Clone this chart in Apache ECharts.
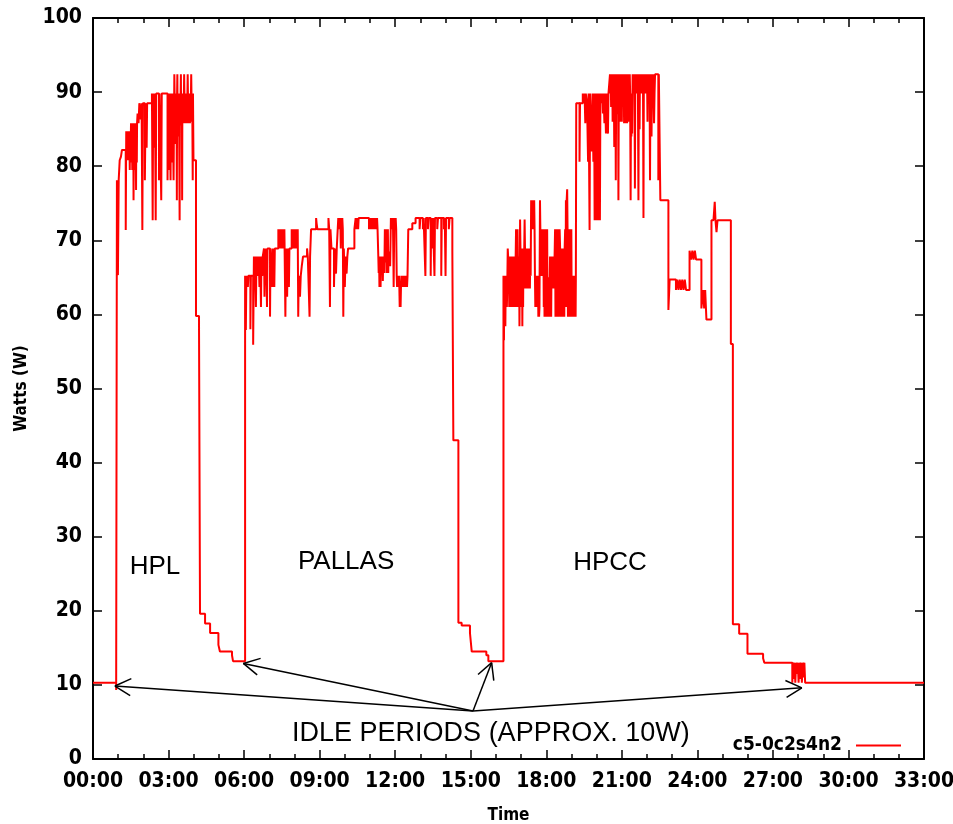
<!DOCTYPE html>
<html><head><meta charset="utf-8">
<script src="https://cdn.jsdelivr.net/npm/echarts@6/dist/echarts.min.js"></script>
<style>html,body{margin:0;padding:0;background:#fff}#c{width:953px;height:824px}</style>
</head><body><div id="c"></div>
<script>
// time in minutes, power in watts (step: value holds from its time until next point)
const idleBefore = [[0,10.3],[0.92,9.3]];
const hplRun = [
[0.95,78.1],[0.99,65.3],[1.02,78.1],[1.06,80.8],[1.11,81.3],[1.15,82.2],
[1.30,71.4],[1.32,84.7],[1.34,81.3],[1.35,84.7],[1.37,80.8],[1.38,84.7],[1.40,81.3],[1.41,84.7],[1.43,80.8],[1.44,84.7],[1.46,79.5],[1.47,84.7],[1.49,81.3],[1.51,85.8],[1.53,80.5],[1.54,85.8],[1.56,79.5],[1.57,85.8],[1.59,81.0],[1.60,85.8],[1.61,75.4],[1.63,85.8],[1.65,80.0],[1.66,85.8],[1.67,79.5],[1.69,85.8],[1.71,76.8],[1.72,85.8],[1.74,80.5],[1.75,85.8],
[1.77,87.1],[1.79,85.8],[1.80,87.1],[1.81,85.8],[1.84,88.5],[1.90,86.3],[1.93,88.5],[1.96,71.4],[1.98,88.5],[2.06,78.1],[2.09,88.5],[2.13,82.5],[2.15,88.5],[2.34,89.8],[2.37,72.7],[2.39,89.8],[2.44,82.5],[2.46,89.8],[2.49,72.7],[2.51,89.8],[2.62,78.1],[2.64,89.8],[2.71,75.4],[2.73,89.8],
[2.96,78.1],[2.98,89.8],[3.00,82.0],[3.02,79.5],[3.04,89.8],[3.06,84.0],[3.08,78.1],[3.10,89.8],[3.12,83.0],[3.14,80.5],[3.16,89.8],[3.18,84.0],[3.20,78.1],
[3.23,92.4],[3.24,89.8],[3.26,83.0],[3.27,89.8],[3.29,84.5],[3.30,89.8],[3.32,86.0],[3.33,75.4],[3.34,89.8],[3.35,92.4],[3.36,85.0],[3.38,89.8],[3.39,84.0],[3.41,89.8],[3.42,86.0],[3.44,72.7],[3.45,89.8],[3.47,85.5],[3.48,89.8],[3.49,92.4],[3.50,86.0],[3.52,89.8],[3.53,85.8],[3.54,75.4],[3.55,89.8],[3.57,85.8],[3.58,89.8],[3.60,86.5],[3.61,89.8],[3.62,92.4],[3.63,89.8],[3.65,85.8],[3.66,89.8],[3.68,86.2],[3.69,89.8],[3.71,85.8],[3.72,89.8],[3.74,86.5],[3.75,89.8],[3.76,92.4],[3.77,89.8],[3.79,85.8],[3.80,89.8],[3.82,86.0],[3.83,89.8],[3.85,85.8],[3.86,89.8],[3.88,86.0],[3.89,89.8],[3.90,92.4],[3.91,89.8],[3.93,86.5],[3.94,89.8],[3.96,78.1],[3.97,89.8],[3.99,80.8],
[4.09,59.8],[4.21,58.6],[4.25,19.6],[4.45,18.3],[4.65,17.0],[4.98,15.4],[5.04,14.5],[5.52,14.0],[5.56,13.2]
];
const pallasRun = [
[6.04,65.2],[6.07,57.9],[6.09,65.2],[6.11,63.7],[6.13,65.2],[6.15,63.7],[6.17,65.2],[6.25,58.0],[6.27,65.2],[6.36,55.9],[6.39,67.8],[6.41,63.7],[6.43,67.8],[6.45,65.2],[6.47,61.0],[6.49,67.8],[6.52,65.2],[6.54,67.8],[6.56,65.2],[6.58,67.8],[6.61,63.7],[6.63,67.8],[6.65,65.2],[6.67,61.0],[6.69,67.8],[6.72,65.2],[6.74,67.8],
[6.79,68.9],[6.81,62.4],[6.83,68.9],[6.85,65.5],[6.87,68.9],[6.91,61.0],[6.93,68.9],[7.03,59.7],[7.05,68.9],[7.12,63.7],[7.14,68.9],[7.16,65.5],[7.18,68.9],[7.20,63.7],[7.22,68.9],
[7.36,71.5],[7.38,68.9],[7.40,71.5],[7.42,68.9],[7.44,71.5],[7.46,68.9],[7.48,71.5],[7.50,68.9],[7.52,71.5],[7.54,68.9],[7.56,71.5],[7.58,68.9],[7.60,71.5],[7.64,59.7],[7.66,68.9],[7.71,62.4],[7.73,68.9],[7.78,63.7],[7.80,68.9],
[7.89,71.5],[7.91,68.9],[7.93,71.5],[7.95,68.9],[7.97,71.5],[7.99,68.9],[8.01,71.5],[8.03,68.9],[8.05,71.5],[8.07,68.9],[8.09,71.5],[8.11,68.9],[8.13,71.5],[8.15,59.7],[8.17,65.2],[8.22,62.4],[8.25,65.2],[8.29,66.5],[8.34,67.8],[8.50,68.9],[8.53,67.8],[8.60,59.7],[8.62,67.8],[8.66,71.5],[8.86,73.0],[8.88,72.3],[8.91,71.5],
[9.35,73.0],[9.38,71.5],[9.41,61.0],[9.43,71.5],[9.47,68.9],[9.57,63.7],[9.60,68.9],[9.65,65.5],[9.68,68.9],[9.74,73.0],[9.76,71.5],[9.78,73.0],[9.80,71.5],[9.82,73.0],[9.84,68.9],[9.86,73.0],[9.88,71.5],[9.90,73.0],[9.92,71.5],[9.94,59.7],[9.96,68.9],[10.00,63.7],[10.03,67.8],[10.07,65.5],[10.10,67.8],[10.13,68.9],
[10.38,71.5],[10.43,73.0],[10.45,71.5],[10.47,73.0],[10.49,71.5],[10.51,73.0],[10.53,71.5],[10.55,73.0],
[10.96,71.5],[10.98,73.0],[11.00,71.5],[11.03,73.0],[11.05,71.5],[11.08,73.0],[11.10,71.5],[11.13,73.0],[11.15,71.5],[11.18,73.0],[11.20,71.5],[11.23,73.0],[11.25,71.5],[11.28,73.0],[11.30,71.5],
[11.33,67.8],[11.345,65.6],[11.36,67.8],[11.375,63.7],[11.39,67.8],[11.405,65.6],[11.42,63.7],[11.435,67.8],[11.45,65.6],[11.465,67.8],[11.48,65.6],[11.495,67.8],[11.51,64.5],[11.525,67.8],[11.54,65.6],[11.555,67.8],[11.57,65.6],
[11.59,71.5],[11.605,68.5],[11.62,71.5],[11.635,67.0],[11.65,71.5],[11.665,65.6],[11.68,71.5],[11.695,68.5],[11.71,71.5],[11.725,65.6],[11.74,68.5],[11.755,66.5],[11.77,68.5],[11.80,66.5],
[11.83,73.0],[11.85,71.5],[11.87,73.0],[11.89,71.5],[11.91,73.0],[11.94,63.7],[11.96,71.5],[11.98,73.0],[12.00,71.5],[12.02,73.0],[12.04,71.5],
[12.06,65.2],[12.075,63.7],[12.09,65.2],[12.105,63.7],[12.12,65.2],[12.135,63.7],[12.15,65.2],[12.165,63.7],[12.18,61.0],[12.20,63.7],[12.215,61.0],[12.23,63.7],[12.245,65.2],[12.26,63.7],[12.275,65.2],[12.29,63.7],[12.305,65.2],[12.32,63.7],[12.335,65.2],[12.35,63.7],[12.365,65.2],[12.38,63.7],[12.395,65.2],[12.41,63.7],[12.425,65.2],[12.44,63.7],[12.455,65.2],[12.47,63.7],[12.49,65.2],
[12.52,71.5],[12.68,72.3],[12.81,73.0],
[12.97,71.5],[13.00,73.0],[13.10,71.5],[13.13,73.0],[13.20,65.2],[13.22,73.0],[13.30,71.5],[13.33,73.0],[13.41,65.2],[13.43,73.0],[13.48,68.9],[13.50,73.0],[13.56,65.2],[13.58,73.0],[13.67,71.5],[13.70,73.0],[13.83,65.2],[13.85,73.0],[13.94,71.5],[13.97,73.0],[14.00,65.2],[14.02,73.0],[14.13,71.5],[14.16,73.0],
[14.27,68.5],[14.31,43.0],[14.51,18.4],[14.64,18.0],[14.97,17.0],[15.04,14.5],[15.62,14.0],[15.70,13.2]
];
const hpccRun = [
[16.30,65.2],[16.32,56.5],[16.33,65.2],[16.345,61.0],[16.36,65.2],[16.375,58.4],[16.39,65.2],[16.405,61.0],[16.42,65.2],[16.435,61.0],[16.45,63.5],[16.47,68.9],[16.485,67.8],[16.50,63.5],[16.515,67.8],[16.53,61.0],[16.545,67.8],[16.56,63.5],[16.575,67.8],[16.59,61.0],[16.605,67.8],[16.62,63.5],[16.635,67.8],[16.65,61.0],[16.665,67.8],[16.68,63.5],[16.695,67.8],[16.71,61.0],[16.725,67.8],[16.74,63.5],[16.755,67.8],[16.77,61.0],[16.785,67.8],
[16.80,71.5],[16.815,63.5],[16.83,71.5],[16.845,61.0],[16.86,71.5],[16.875,63.5],[16.89,67.8],[16.905,61.0],[16.92,67.8],[16.935,58.4],[16.95,67.8],[16.96,72.8],[16.975,68.9],[16.99,61.0],[17.005,68.9],[17.02,63.5],[17.035,68.9],[17.05,58.4],[17.065,68.9],[17.08,61.0],[17.095,68.9],[17.11,63.5],[17.125,68.9],[17.14,72.8],[17.155,68.9],[17.17,63.5],[17.185,68.9],[17.20,65.2],[17.215,68.9],[17.23,63.5],[17.245,68.9],[17.26,65.2],[17.275,68.9],[17.29,63.5],[17.305,68.9],[17.32,65.2],[17.335,68.9],[17.35,63.5],[17.365,68.9],[17.38,65.2],
[17.40,75.4],[17.415,71.5],[17.43,75.4],[17.445,73.9],[17.46,75.4],[17.475,71.5],[17.49,73.9],[17.505,71.5],[17.52,75.4],[17.535,71.5],
[17.55,65.2],[17.565,61.0],[17.58,65.2],[17.595,61.0],[17.61,65.2],[17.625,61.0],[17.64,65.2],[17.655,61.0],[17.67,65.2],[17.685,59.7],[17.70,61.0],[17.715,59.7],[17.73,61.0],
[17.75,75.4],[17.765,71.5],[17.78,65.2],[17.795,71.5],[17.81,65.2],[17.825,71.5],[17.84,65.2],[17.855,71.5],[17.87,65.2],
[17.885,71.5],[17.90,61.0],[17.915,71.5],[17.93,59.7],[17.945,71.5],[17.96,61.0],[17.975,71.5],[17.99,59.7],[18.005,71.5],[18.02,61.0],[18.035,71.5],[18.05,59.7],[18.065,65.0],[18.08,59.7],[18.10,61.0],[18.12,59.7],
[18.15,67.8],[18.165,63.5],[18.18,67.8],[18.195,59.7],[18.21,67.8],[18.225,63.5],[18.24,67.8],[18.255,63.5],[18.27,67.8],[18.285,63.5],[18.30,67.8],[18.315,63.5],[18.33,67.8],
[18.35,71.5],[18.365,59.7],[18.38,71.5],[18.395,61.0],[18.41,71.5],[18.425,59.7],[18.44,71.5],[18.455,61.0],[18.47,71.5],[18.485,59.7],[18.50,71.5],[18.515,61.0],[18.53,71.5],
[18.55,68.9],[18.565,59.7],[18.58,68.9],[18.595,61.0],[18.61,68.9],[18.625,59.7],[18.64,68.9],[18.655,61.0],[18.67,68.9],[18.685,59.7],[18.70,68.9],[18.715,59.7],[18.73,68.9],
[18.75,71.5],[18.765,61.0],[18.78,75.4],[18.795,61.0],[18.81,75.4],[18.83,76.9],[18.845,71.5],[18.86,59.7],[18.875,71.5],[18.89,61.0],[18.905,71.5],[18.92,59.7],[18.935,71.5],[18.95,61.0],[18.965,71.5],[18.98,59.7],[18.995,71.5],[19.01,59.7],
[19.03,65.2],[19.045,59.7],[19.06,65.2],[19.075,59.7],[19.09,65.2],[19.105,59.7],[19.12,65.2],[19.135,59.7],[19.15,65.2],[19.165,59.7],[19.175,65.2],
[19.19,88.5],[19.32,80.6],[19.34,88.5],[19.45,89.8],[19.50,88.5],[19.52,89.8],[19.55,85.8],[19.57,89.8],[19.62,88.5],[19.66,80.6],[19.68,89.8],[19.72,71.4],[19.74,89.8],[19.80,82.0],[19.84,89.8],[19.87,80.6],
[19.90,89.8],[19.92,72.7],[19.94,89.8],[19.96,74.0],[19.98,89.8],[20.00,72.7],[20.02,89.8],[20.04,73.5],[20.06,89.8],[20.08,72.7],[20.10,89.8],[20.13,72.7],[20.15,89.8],[20.20,88.5],[20.23,89.8],[20.25,87.1],[20.27,89.8],[20.31,85.8],[20.33,89.8],[20.37,84.4],[20.39,89.8],[20.45,84.4],[20.47,89.8],
[20.53,92.4],[20.545,89.8],[20.56,92.4],[20.575,88.0],[20.59,92.4],[20.605,89.8],[20.62,92.4],[20.635,86.0],[20.65,92.4],[20.665,89.8],[20.68,92.4],[20.70,82.6],[20.715,92.4],[20.73,89.8],[20.745,92.4],[20.76,78.1],[20.775,89.8],[20.79,92.4],[20.805,89.8],[20.82,92.4],[20.835,87.0],[20.85,92.4],[20.865,75.4],[20.88,89.8],[20.895,92.4],[20.91,89.8],[20.925,92.4],[20.94,86.0],[20.955,92.4],[20.97,89.8],[20.985,92.4],[21.00,86.0],[21.015,92.4],[21.03,89.8],[21.045,92.4],
[21.06,88.5],[21.075,92.4],[21.09,85.8],[21.105,92.4],[21.12,88.5],[21.135,92.4],[21.15,85.8],[21.165,92.4],[21.18,88.5],[21.195,92.4],[21.21,85.8],[21.225,92.4],[21.24,88.5],[21.255,92.4],[21.27,86.0],[21.285,92.4],[21.30,89.8],[21.315,92.4],[21.33,89.8],[21.35,75.4],[21.365,89.8],[21.38,84.0],[21.395,89.8],[21.41,84.4],[21.43,92.4],
[21.445,89.8],[21.46,92.4],[21.475,89.8],[21.49,92.4],[21.505,89.8],[21.52,77.0],[21.535,92.4],[21.55,89.8],[21.565,92.4],[21.58,89.8],[21.595,92.4],[21.61,89.8],[21.625,92.4],[21.64,89.8],[21.66,75.4],[21.675,89.8],[21.69,92.4],[21.705,85.0],[21.72,92.4],[21.735,89.8],[21.75,92.4],[21.765,89.8],[21.78,92.4],[21.795,89.8],[21.81,92.4],[21.825,89.8],[21.84,92.4],[21.86,73.0],[21.875,92.4],[21.89,89.8],[21.905,92.4],[21.92,89.8],[21.935,92.4],[21.95,89.8],[21.965,92.4],[21.98,89.8],
[22.00,92.4],[22.02,86.0],[22.035,92.4],[22.05,89.8],[22.065,92.4],[22.08,89.8],[22.10,92.4],[22.12,78.1],[22.135,89.8],[22.15,92.4],[22.165,89.8],[22.18,84.0],[22.195,89.8],[22.21,92.4],[22.225,89.8],[22.24,92.4],[22.26,89.8],[22.28,85.8],[22.30,89.8],
[22.32,92.4],[22.45,78.1],[22.47,92.4],[22.53,75.4],
[22.85,60.6],[22.90,64.7],[23.15,63.3],[23.20,64.7],[23.25,63.3],[23.30,64.7],[23.35,63.3],[23.40,64.7],[23.45,63.3],[23.50,64.7],[23.55,63.3],
[23.69,68.6],[23.75,67.4],[23.80,68.6],[23.85,67.4],[23.90,68.6],[23.95,67.4],[24.02,67.4],[24.16,60.8],[24.23,63.3],[24.27,60.8],[24.31,63.3],[24.36,59.3],
[24.56,72.7],[24.64,72.7],[24.69,75.2],[24.72,72.7],[24.76,71.1],[24.80,72.7],[24.83,72.7],
[25.33,56.0],[25.41,18.2],[25.66,16.9],[25.99,14.2],[26.61,13.6],[26.66,13.0],
[27.77,10.3],[27.80,13.0],[27.83,10.8],[27.86,13.0],[27.89,10.3],[27.92,13.0],[27.96,11.5],[27.99,13.0],[28.02,10.3],[28.05,13.0],[28.09,10.8],[28.12,13.0],[28.15,10.3],[28.18,13.0],[28.22,11.0],[28.25,13.0]
];
const idleAfter = [[28.28,10.3],[33,10.3]];

const seriesName = 'c5-0c2s4n2';
const phaseLabels = ['HPL','PALLAS','HPCC'];
const phaseLabelAt = [[2.46,26.0],[10.05,26.6],[20.53,26.5]];
const idleNote = 'IDLE PERIODS (APPROX. 10W)';
const idleNoteAt = [15.8,3.4];
const arrowFrom = [15.09,6.48];
const arrowTips = [[0.87,9.85],[5.97,12.9],[15.83,13.0],[28.15,9.6]];

const tickFont = "'Liberation Sans Narrow','DejaVu Sans Condensed','DejaVu Sans Mono',monospace";
const noteFont = "'Liberation Sans',Arial,sans-serif";

const data = [].concat(idleBefore, hplRun, pallasRun, hpccRun, idleAfter);
const pad = v => (v < 10 ? '0' : '') + v;

const chart = echarts.init(document.getElementById('c'), null, {renderer:'canvas'});
const axisBase = {
  axisLine:{show:true,onZero:false,lineStyle:{color:'#000',width:2}},
  axisTick:{show:true,inside:true,length:9,lineStyle:{color:'#000',width:1.5}},
  splitLine:{show:false}
};
chart.setOption({
  animation:false,
  backgroundColor:'#fff',
  grid:{left:93,right:29,top:18,bottom:65,containLabel:false,outerBoundsMode:'none'},
  xAxis:[
    Object.assign({}, axisBase, {type:'value',min:0,max:33,interval:3,position:'bottom',
      minorTick:{show:true,splitNumber:3,length:5,lineStyle:{color:'#000',width:1.5}},
      axisLabel:{formatter:v=>pad(v)+':00',margin:12,color:'#000',fontFamily:tickFont,fontWeight:'bold',fontSize:21},
      name:'Time',nameLocation:'middle',nameGap:48,
      nameTextStyle:{color:'#000',fontFamily:tickFont,fontWeight:'bold',fontSize:17}}),
    Object.assign({}, axisBase, {type:'value',min:0,max:33,interval:3,position:'top',
      minorTick:{show:true,splitNumber:3,length:5,lineStyle:{color:'#000',width:1.5}},
      axisLabel:{show:false}})
  ],
  yAxis:[
    Object.assign({}, axisBase, {type:'value',min:0,max:100,interval:10,position:'left',
      axisLabel:{margin:11,color:'#000',fontFamily:tickFont,fontWeight:'bold',fontSize:21},
      name:'Watts (W)',nameLocation:'middle',nameGap:63,nameRotate:90,
      nameTextStyle:{color:'#000',fontFamily:tickFont,fontWeight:'bold',fontSize:17}}),
    Object.assign({}, axisBase, {type:'value',min:0,max:100,interval:10,position:'right',
      axisLabel:{show:false}})
  ],
  legend:{show:true,data:[{name:seriesName,icon:'rect'}],right:47,top:731,align:'right',
    itemWidth:45,itemHeight:2,itemGap:10,
    textStyle:{color:'#000',fontFamily:tickFont,fontWeight:'bold',fontSize:19,padding:[0,9,0,0]}},
  series:[{
    name:seriesName,type:'line',step:'end',xAxisIndex:0,yAxisIndex:0,
    data:data,showSymbol:false,symbol:'none',
    lineStyle:{color:'#ff0000',width:2},itemStyle:{color:'#ff0000'}
  }]
});

// annotations anchored in data coordinates
const g = [];
const toPx = p => chart.convertToPixel({xAxisIndex:0,yAxisIndex:0}, p);
const o = toPx(arrowFrom);
arrowTips.forEach(tp => {
  const t = toPx(tp);
  g.push({type:'line',shape:{x1:o[0],y1:o[1],x2:t[0],y2:t[1]},style:{stroke:'#000',lineWidth:1.5},z:100});
  const dx = o[0]-t[0], dy = o[1]-t[1], L = Math.hypot(dx,dy);
  const ux = dx/L, uy = dy/L, len = 18, ang = 28*Math.PI/180;
  [ang,-ang].forEach(a => {
    const rx = ux*Math.cos(a)-uy*Math.sin(a), ry = ux*Math.sin(a)+uy*Math.cos(a);
    g.push({type:'line',shape:{x1:t[0],y1:t[1],x2:t[0]+rx*len,y2:t[1]+ry*len},style:{stroke:'#000',lineWidth:1.5},z:100});
  });
});
phaseLabels.forEach((s,i) => {
  const p = toPx(phaseLabelAt[i]);
  g.push({type:'text',x:p[0],y:p[1],style:{text:s,align:'center',verticalAlign:'middle',font:'26px '+noteFont,fill:'#000'},z:100});
});
const ip = toPx(idleNoteAt);
g.push({type:'text',x:ip[0],y:ip[1],style:{text:idleNote,align:'center',verticalAlign:'middle',font:'27px '+noteFont,fill:'#000'},z:100});
chart.setOption({graphic:g});
</script></body></html>
